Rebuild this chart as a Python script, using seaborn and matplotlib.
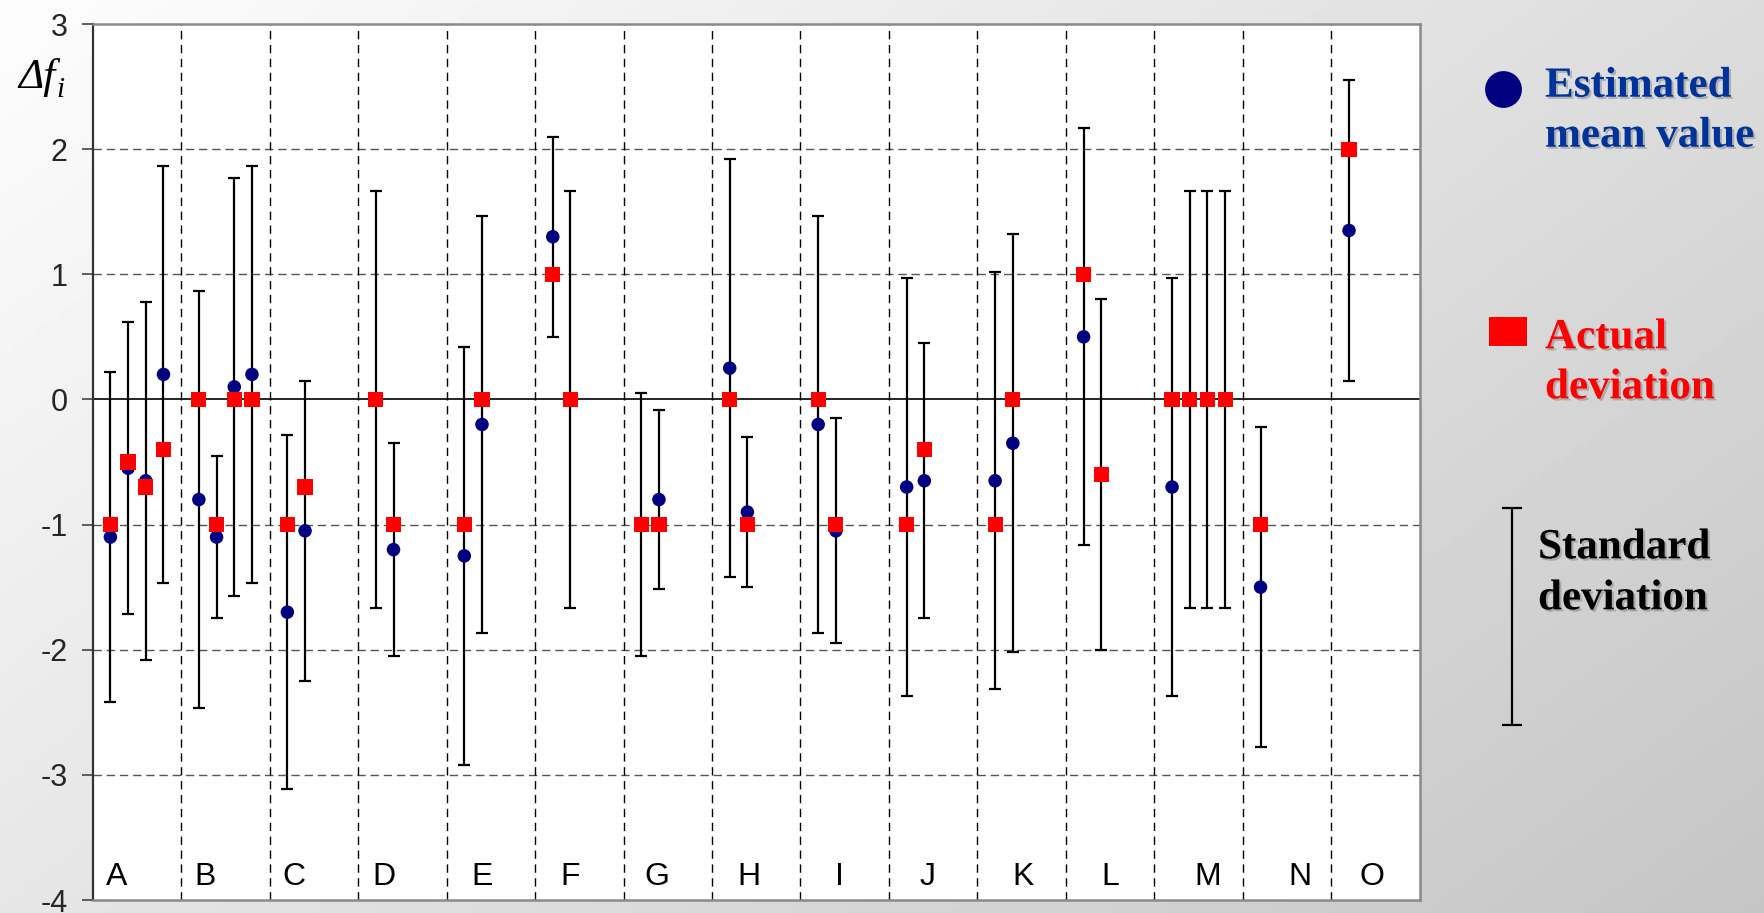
import numpy as np
import pandas as pd
import matplotlib
matplotlib.use('Agg')
import matplotlib.pyplot as plt
import seaborn as sns
from matplotlib import patheffects as pe
from matplotlib.patches import Rectangle

# ---- data ----
group_names = list("ABCDEFGHIJKLMNO")
point_group = (["A"] * 4 + ["B"] * 4 + ["C"] * 2 + ["D"] * 2 + ["E"] * 2 + ["F"] * 2
               + ["G"] * 2 + ["H"] * 2 + ["I"] * 2 + ["J"] * 2 + ["K"] * 2 + ["L"] * 2
               + ["M"] * 4 + ["N"] + ["O"])
est_mean = [-1.10, -0.55, -0.65, 0.20,
            -0.80, -1.10, 0.10, 0.20,
            -1.70, -1.05,
            0.00, -1.20,
            -1.25, -0.20,
            1.30, 0.00,
            -1.00, -0.80,
            0.25, -0.90,
            -0.20, -1.05,
            -0.70, -0.65,
            -0.65, -0.35,
            0.50, -0.60,
            -0.70, 0.00, 0.00, 0.00,
            -1.50,
            1.35]
est_std = [1.32, 1.165, 1.43, 1.667,
           1.667, 0.65, 1.667, 1.667,
           1.415, 1.20,
           1.667, 0.85,
           1.67, 1.667,
           0.80, 1.667,
           1.05, 0.716,
           1.67, 0.60,
           1.667, 0.90,
           1.667, 1.10,
           1.667, 1.67,
           1.667, 1.40,
           1.667, 1.667, 1.667, 1.667,
           1.28,
           1.20]
actual = [-1.0, -0.5, -0.7, -0.4,
          0.0, -1.0, 0.0, 0.0,
          -1.0, -0.7,
          0.0, -1.0,
          -1.0, 0.0,
          1.0, 0.0,
          -1.0, -1.0,
          0.0, -1.0,
          0.0, -1.0,
          -1.0, -0.4,
          -1.0, 0.0,
          1.0, -0.6,
          0.0, 0.0, 0.0, 0.0,
          -1.0,
          2.0]

# ---- layout: each category gets a strip 5 units wide, points start 1 unit in ----
strip = 5
label_offset = [1.36, 1.36, 1.35, 1.45, 2.0, 1.96, 1.9, 2.07, 2.2, 2.2, 2.6, 2.5, 3.0, 3.2, 2.3]

df = pd.DataFrame({'group': point_group, 'mean': est_mean, 'std': est_std, 'actual': actual})
gidx = {g: i for i, g in enumerate(group_names)}
df['x'] = df['group'].map(gidx) * strip + 1 + df.groupby('group').cumcount()

sns.set_theme(style='white')
plt.rcParams['font.family'] = ['Liberation Sans', 'DejaVu Sans']
plt.rcParams['axes.unicode_minus'] = False

W, H = 1765, 913
fig = plt.figure(figsize=(W / 100, H / 100), dpi=100)

# grey gradient background
bg = fig.add_axes([0, 0, 1, 1], zorder=-2)
xx, yy = np.meshgrid(np.linspace(0, 1, 300), np.linspace(0, 1, 160))
bg.imshow((253 - 33 * xx - 23 * yy) / 255, cmap='gray', vmin=0, vmax=1, aspect='auto')
bg.axis('off')

ax = fig.add_axes([92.7 / W, 1 - 900 / H, (1419.8 - 92.7) / W, (900 - 24) / H])
ax.set_facecolor('white')
ax.set_xlim(0, strip * len(group_names))
ax.set_ylim(-4, 3)

for y in [-3, -2, -1, 1, 2]:
    ax.axhline(y, color='#555555', lw=1, ls=(0, (6, 3.5)), zorder=1)
for k in range(1, len(group_names)):
    ax.axvline(k * strip, color='black', lw=1, ls=(0, (6, 4)), zorder=1)
ax.axhline(0, color='black', lw=1.2, zorder=2)

ax.errorbar(df['x'], df['mean'], yerr=df['std'], fmt='none', ecolor='black',
            elinewidth=1.6, capsize=4.5, capthick=1.6, zorder=3)
sns.scatterplot(data=df, x='x', y='mean', ax=ax, marker='o', color='#000080',
                s=95, edgecolor='none', zorder=4)
sns.scatterplot(data=df, x='x', y='actual', ax=ax, marker='s', color='#ff0000',
                s=120, edgecolor='none', zorder=5)

for i, (name, off) in enumerate(zip(group_names, label_offset)):
    ax.text(i * strip + off, -3.88, name, ha='center', va='baseline', fontsize=23, color='black')

ax.set_xticks([])
ax.set_yticks(range(-4, 4))
ax.tick_params(axis='y', direction='out', length=8, width=1.2, color='#444444',
               pad=10, labelsize=22, left=True)
ax.set_xlabel('')
ax.set_ylabel('')
for side in ['top', 'right', 'bottom']:
    ax.spines[side].set_color('#8a8a8a')
    ax.spines[side].set_linewidth(1.8)
ax.spines['left'].set_color('#333333')
ax.spines['left'].set_linewidth(1.6)

# overlay in pixel coordinates for the side legend and axis label
lax = fig.add_axes([0, 0, 1, 1], zorder=5)
lax.set_xlim(0, W)
lax.set_ylim(H, 0)
lax.axis('off')
lax.patch.set_alpha(0)

serif = ['Liberation Serif', 'DejaVu Serif']
lax.text(18, 88, '\u0394f', family=serif, style='italic', fontsize=31,
         ha='left', va='baseline', color='black')
lax.text(56, 97, 'i', family=serif, style='italic', fontsize=21,
         ha='left', va='baseline', color='black')

shadow = [pe.SimplePatchShadow(offset=(1.5, -1.5), shadow_rgbFace='#777777', alpha=0.45), pe.Normal()]
legend_font = dict(family=serif, weight='bold', fontsize=31,
                   ha='left', va='baseline', path_effects=shadow)

lax.plot(1502.7, 89, 'o', color='#000080', ms=26.5, mec='none')
lax.text(1545, 96.7, 'Estimated', color='#003399', **legend_font)
lax.text(1545, 146.7, 'mean value', color='#003399', **legend_font)

lax.add_patch(Rectangle((1508 - 18.7, 331.5 - 14.2), 37.5, 28.4, color='#ff0000', lw=0))
lax.text(1545, 348.3, 'Actual', color='#ff0000', **legend_font)
lax.text(1545, 398.3, 'deviation', color='#ff0000', **legend_font)

lax.errorbar(1512, 616.7, yerr=108.3, fmt='none', ecolor='black', elinewidth=1.6,
             capsize=7, capthick=1.6)
lax.text(1538, 558.3, 'Standard', color='black', **legend_font)
lax.text(1538, 609.3, 'deviation', color='black', **legend_font)

fig.savefig('out.png', dpi=100)
